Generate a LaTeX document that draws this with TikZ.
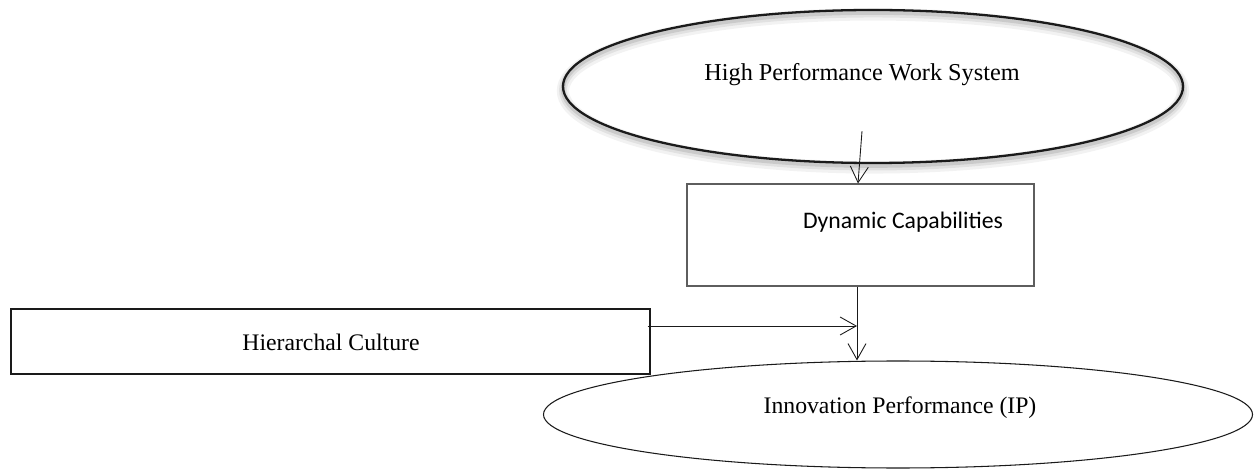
\documentclass[tikz,border=0pt]{standalone}
\usepackage{fontspec}
\setmainfont{Liberation Serif}
\newfontfamily\calibri{Carlito}
\usetikzlibrary{arrows.meta,shapes.geometric}
\definecolor{ink}{HTML}{1A1A1A}
\definecolor{boxline}{HTML}{5E5E5E}
\tikzset{
  every node/.style={font=\fontsize{13.5}{16}\selectfont,text=black},
  ellbox/.style={draw=ink,ellipse,inner sep=0pt,line width=0.6pt},
  % soft grey halo under the top ellipse
  hpwsbox/.style={ellbox,line width=1.3pt,
    preaction={draw=black,opacity=0.05,line width=7pt,transform canvas={yshift=-2.5pt}},
    preaction={draw=black,opacity=0.07,line width=4.5pt,transform canvas={yshift=-2pt}},
    preaction={draw=black,opacity=0.10,line width=2.5pt,transform canvas={yshift=-1.5pt}}},
  box/.style={draw=ink,inner sep=0pt,line width=0.6pt},
  capbox/.style={box,draw=boxline},
  txt/.style={inner sep=0pt},
  arrow/.style={-{Straight Barb[length=3.2mm,width=3.6mm]},line width=0.5pt,draw=ink},
}

\begin{document}
\begin{tikzpicture}[x=0.2mm,y=-0.2mm]
  \useasboundingbox (0,0) rectangle (1254,470);

  \node[hpwsbox,minimum width=124mm,minimum height=30.6mm] (hpws) at (873,86.5) {};
  \node[capbox,minimum width=69.4mm,minimum height=20.4mm] (dyn) at (860.5,235) {};
  \node[box,minimum width=127.8mm,minimum height=13mm] (hc) at (330.5,341.5) {};
  \node[ellbox,minimum width=141.8mm,minimum height=21.4mm] (ip) at (898,414.5) {};

  \node[txt,font=\fontsize{13.8}{16}\selectfont] (hpwsT) at (862,75) {High Performance Work System};
  \node[txt,font=\calibri\fontsize{13.5}{16}\selectfont] (dynT) at (903,222) {Dynamic Capabilities};
  \node[txt] (hcT) at (331,342) {Hierarchal Culture};
  \node[txt] (ipT) at (900,408) {Innovation Performance (IP)};

  \coordinate (hpwsIn) at ([xshift=-2.2mm,yshift=6.6mm]hpws.south);
  \coordinate (link) at ([xshift=-0.7mm]dyn.south);
  \draw[arrow] (hpwsIn) -- ([xshift=-0.5mm]dyn.north);
  \draw[arrow] (link) -- (link |- ip.north);
  \draw[arrow] ([xshift=-0.6mm,yshift=3.1mm]hc.east) -- ([yshift=3.1mm]hc.east -| link);
\end{tikzpicture}
\end{document}
